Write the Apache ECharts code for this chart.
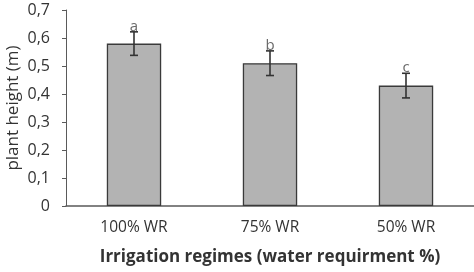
<!DOCTYPE html>
<html>
<head>
<meta charset="utf-8">
<script src="https://cdn.jsdelivr.net/npm/echarts@6/dist/echarts.min.js"></script>
<style>
html, body { margin: 0; padding: 0; background: #fff; }
#chart { width: 474px; height: 272px; }
</style>
</head>
<body>
<div id="chart"></div>
<script>
// data
var categories = ['100% WR', '75% WR', '50% WR'];
var heights = [0.58, 0.51, 0.43];
var errors = [0.042, 0.044, 0.044];
var letters = ['a', 'b', 'c'];

var chart = echarts.init(document.getElementById('chart'));
var font = '"Open Sans", "Noto Sans", sans-serif';

var errData = heights.map(function (h, i) {
	return [i, h - errors[i], h + errors[i], letters[i]];
});

chart.setOption({
	animation: false,
	grid: { left: 66, right: 0, top: 10, bottom: 66, outerBoundsMode: 'none' },
	xAxis: {
		type: 'category',
		data: categories,
		name: 'Irrigation regimes (water requirment %)',
		nameLocation: 'middle',
		nameGap: 43,
		nameMoveOverlap: false,
		nameTextStyle: { fontFamily: font, fontSize: 17, fontWeight: 'bold', color: '#333' },
		axisLine: { lineStyle: { color: '#5a5a5a', width: 1.5 } },
		axisTick: { show: false },
		axisLabel: { fontFamily: font, fontSize: 15.5, color: '#333', margin: 14 }
	},
	yAxis: {
		type: 'value',
		min: 0, max: 0.7, interval: 0.1,
		name: 'plant height (m)',
		nameLocation: 'middle',
		nameGap: 44,
		nameMoveOverlap: false,
		nameTextStyle: { fontFamily: font, fontSize: 17, color: '#333' },
		axisLine: { show: true, lineStyle: { color: '#5a5a5a', width: 1 } },
		axisTick: { show: true, length: 4, lineStyle: { color: '#5a5a5a' } },
		splitLine: { show: false },
		axisLabel: {
			fontFamily: font, fontSize: 16, color: '#333', margin: 16,
			formatter: function (v) { return (Math.round(v * 10) / 10).toString().replace('.', ','); }
		}
	},
	series: [
		{
			type: 'bar',
			data: heights,
			barWidth: '40%',
			itemStyle: { color: '#b3b3b3', borderColor: '#3a3a3a', borderWidth: 1.3 }
		},
		{
			type: 'custom',
			data: errData,
			z: 5,
			renderItem: function (params, api) {
				var lo = api.coord([api.value(0), api.value(1)]);
				var hi = api.coord([api.value(0), api.value(2)]);
				var cap = 8;
				var st = { stroke: '#333', lineWidth: 1.6 };
				return {
					type: 'group',
					children: [
						{ type: 'line', shape: { x1: hi[0], y1: hi[1], x2: lo[0], y2: lo[1] }, style: st },
						{ type: 'line', shape: { x1: hi[0] - cap / 2, y1: hi[1], x2: hi[0] + cap / 2, y2: hi[1] }, style: st },
						{ type: 'line', shape: { x1: lo[0] - cap / 2, y1: lo[1], x2: lo[0] + cap / 2, y2: lo[1] }, style: st },
						{
							type: 'text',
							x: hi[0], y: hi[1] + 2,
							style: {
								text: letters[params.dataIndex],
								fontFamily: font, fontSize: 15, fill: '#6a6a6a',
								align: 'center', verticalAlign: 'bottom'
							}
						}
					]
				};
			}
		}
	]
});
</script>
</body>
</html>
